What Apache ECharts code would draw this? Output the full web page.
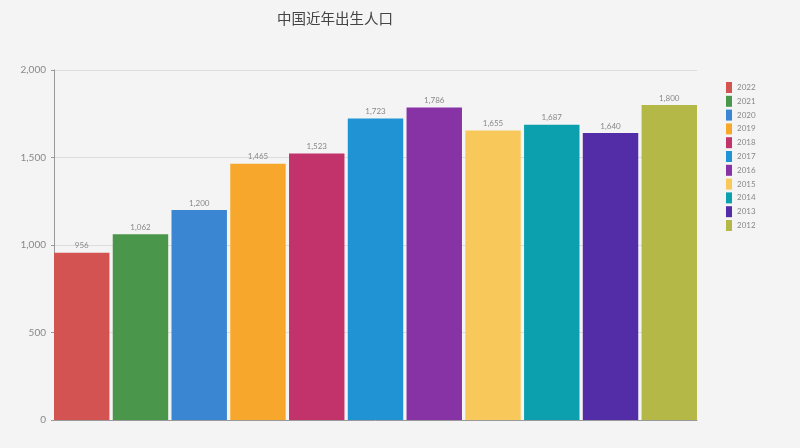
<!DOCTYPE html>
<html>
<head>
<meta charset="utf-8">
<script src="https://cdn.jsdelivr.net/npm/echarts@6/dist/echarts.min.js"></script>
<style>
  html, body { margin: 0; padding: 0; background: #f4f4f4; }
  #chart { width: 800px; height: 448px; }
</style>
</head>
<body>
<div id="chart"></div>
<script>
// 出生人口（万人）
var years = ['2022', '2021', '2020', '2019', '2018', '2017', '2016', '2015', '2014', '2013', '2012'];
var births = [956, 1062, 1200, 1465, 1523, 1723, 1786, 1655, 1687, 1640, 1800];
var colors = ['#d35252', '#4a974b', '#3a86d2', '#f7a82c', '#c3336b', '#1f93d3',
              '#8733a6', '#f8c95a', '#0ca0ae', '#532ca8', '#b4b846'];
var yTicks = [0, 500, 1000, 1500, 2000];

var dom = document.getElementById('chart');
var myChart = echarts.init(dom);

var series = [];
for (var i = 0; i < years.length; i++) {
  series.push({
    name: years[i],
    type: 'bar',
    data: [births[i]],
    barGap: '6%',
    barCategoryGap: '0%',
    itemStyle: { color: colors[i] },
    label: {
      show: true,
      position: 'top',
      distance: 3,
      color: '#888',
      fontSize: 8,
      fontFamily: 'Lato',
      formatter: function (p) { return p.value.toLocaleString('en-US'); }
    }
  });
}

var option = {
  backgroundColor: '#f4f4f4',
  title: {
    text: '中国近年出生人口',
    left: 272,
    top: 6,
    textStyle: { fontSize: 14.5, fontWeight: 'normal', color: '#444', fontFamily: 'Noto Sans CJK SC' }
  },
  legend: {
    orient: 'vertical',
    left: 721,
    top: 77,
    itemWidth: 6,
    itemHeight: 11,
    itemGap: 2.8,
    icon: 'rect',
    textStyle: { fontSize: 8, color: '#888', fontFamily: 'Lato' },
    data: years
  },
  grid: { left: 54, right: 103, top: 70, bottom: 28 },
  xAxis: {
    type: 'category',
    data: ['出生人口'],
    axisLabel: { show: false },
    axisTick: { show: false },
    axisLine: { lineStyle: { color: '#999' } }
  },
  yAxis: {
    type: 'value',
    min: yTicks[0],
    max: yTicks[yTicks.length - 1],
    interval: 500,
    axisLine: { show: true, lineStyle: { color: '#999' } },
    axisTick: { show: true, length: 3, lineStyle: { color: '#999' } },
    axisLabel: {
      color: '#888',
      fontSize: 10,
      fontFamily: 'Lato',
      formatter: function (v) { return v.toLocaleString('en-US'); }
    },
    splitLine: { lineStyle: { color: '#dcdcdc' } }
  },
  series: series
};
myChart.setOption(option);
</script>
</body>
</html>
